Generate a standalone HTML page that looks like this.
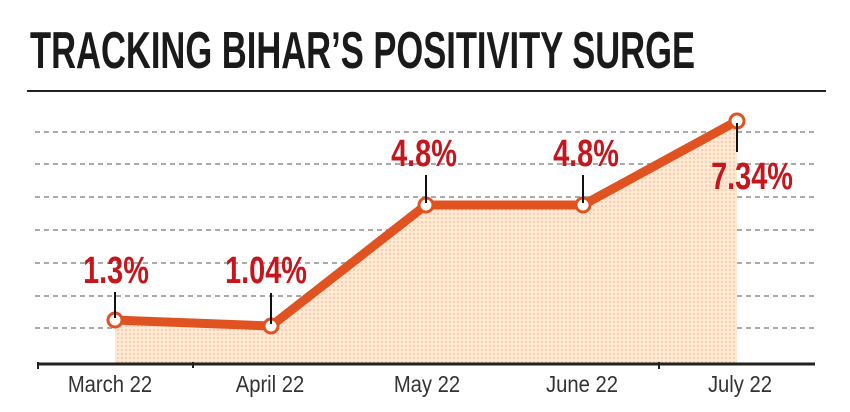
<!DOCTYPE html>
<html><head><meta charset="utf-8"><style>
html,body{margin:0;padding:0;background:#fff;width:850px;height:412px;overflow:hidden}
</style></head><body>
<svg width="850" height="412" viewBox="0 0 850 412" xmlns="http://www.w3.org/2000/svg">
<defs>
<pattern id="dots" width="4" height="4" patternUnits="userSpaceOnUse">
<rect width="4" height="4" fill="#fde8d4"/><circle cx="2" cy="2" r="1" fill="#f7c9a4"/>
</pattern>
</defs>
<text x="30" y="68" font-family="Liberation Sans Narrow, Liberation Sans, sans-serif" font-weight="bold" font-size="52" fill="#1a1a1a" textLength="665" lengthAdjust="spacingAndGlyphs">TRACKING BIHAR’S POSITIVITY SURGE</text>
<line x1="27" y1="91" x2="826" y2="91" stroke="#222" stroke-width="2"/>
<g stroke="#aaa" stroke-width="2" stroke-dasharray="5,4">
<line x1="35" y1="132" x2="818" y2="132"/>
<line x1="35" y1="164" x2="818" y2="164"/>
<line x1="35" y1="197" x2="818" y2="197"/>
<line x1="35" y1="230" x2="818" y2="230"/>
<line x1="35" y1="263" x2="818" y2="263"/>
<line x1="35" y1="296" x2="818" y2="296"/>
<line x1="35" y1="328" x2="818" y2="328"/>
</g>
<polygon points="115,320 271,326 426,205 583,205 737,121 737,363 115,363" fill="url(#dots)"/>
<line x1="37" y1="364" x2="815" y2="364" stroke="#222" stroke-width="3"/>
<line x1="38" y1="362" x2="38" y2="369" stroke="#222" stroke-width="2"/>
<line x1="193" y1="362" x2="193" y2="368" stroke="#222" stroke-width="2"/>
<line x1="659" y1="362" x2="659" y2="369" stroke="#222" stroke-width="2"/>
<polyline points="115,320 271,326 426,205 583,205 737,121" fill="none" stroke="#e0521f" stroke-width="9" stroke-linejoin="round"/>
<g fill="#fff" stroke="#e0521f" stroke-width="3">
<circle cx="115" cy="320" r="7"/><circle cx="271" cy="326" r="7"/><circle cx="426" cy="205" r="7"/><circle cx="583" cy="205" r="7"/><circle cx="737" cy="121" r="7"/>
</g>
<g stroke="#111" stroke-width="2">
<line x1="115" y1="292" x2="115" y2="318"/>
<line x1="271" y1="293" x2="271" y2="324"/>
<line x1="426" y1="175" x2="426" y2="203"/>
<line x1="583" y1="175" x2="583" y2="203"/>
<line x1="737" y1="123" x2="737" y2="152"/>
</g>
<g font-family="Liberation Sans, sans-serif" font-weight="bold" font-size="38" fill="#c4161c" text-anchor="middle">
<text transform="translate(116,283) scale(0.76,1)">1.3%</text>
<text transform="translate(266,283) scale(0.76,1)">1.04%</text>
<text transform="translate(424,166) scale(0.76,1)">4.8%</text>
<text transform="translate(586,166) scale(0.76,1)">4.8%</text>
<text transform="translate(752,189) scale(0.76,1)">7.34%</text>
</g>
<g font-family="Liberation Sans, sans-serif" font-size="23" fill="#333" text-anchor="middle">
<text transform="translate(110,392) scale(0.88,1)">March 22</text>
<text transform="translate(270,392) scale(0.88,1)">April 22</text>
<text transform="translate(427,392) scale(0.88,1)">May 22</text>
<text transform="translate(582,392) scale(0.88,1)">June 22</text>
<text transform="translate(740,392) scale(0.88,1)">July 22</text>
</g>
</svg>
</body></html>
